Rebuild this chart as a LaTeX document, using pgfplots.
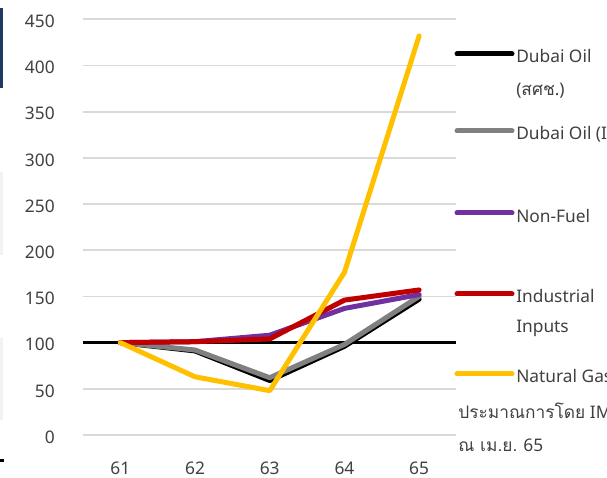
\documentclass[border=0pt]{standalone}
\usepackage{fontspec}
\setmainfont{Noto Sans}
\newfontfamily\thaifont[Script=Thai]{Loma}
\usepackage{pgfplots}
\pgfplotsset{compat=1.18}
\definecolor{txt}{HTML}{404040}
\definecolor{gridc}{HTML}{D9D9D9}
\definecolor{cgray}{HTML}{808080}
\definecolor{cpurple}{HTML}{7030A0}
\definecolor{cred}{HTML}{C00000}
\definecolor{cyellow}{HTML}{FFC000}
\definecolor{navy}{HTML}{203864}
\definecolor{lgray}{HTML}{F2F2F2}
\begin{document}
\begin{tikzpicture}
\useasboundingbox (0,0) rectangle (455.25pt,358.5pt);
\clip (0,0) rectangle (455.25pt,358.5pt);
% fragments at left edge
\fill[navy] (0,292.5pt) rectangle (2.6pt,352.5pt);
\fill[lgray] (0,167.25pt) rectangle (2.6pt,229.5pt);
\fill[lgray] (0,43.5pt) rectangle (2.6pt,105pt);
\fill[black] (0,12pt) rectangle (3pt,14.25pt);
\begin{axis}[
  at={(62.25pt,32.25pt)}, anchor=south west,
  scale only axis, width=280.1pt, height=311.8pt,
  xmin=60.5, xmax=65.5, ymin=0, ymax=450,
  xtick={61,62,63,64,65}, ytick={0,50,...,450},
  axis line style={draw=none}, major tick length=0pt,
  ymajorgrids, grid style={gridc, line width=1.3pt},
  font=\fontsize{13}{15}\selectfont,
  tick label style={text=txt, inner sep=0pt},
  /pgf/number format/assume math mode=true,
  /pgf/number format/1000 sep={},
  xticklabel style={anchor=north, yshift=-20pt},
  yticklabel style={anchor=east, xshift=-21pt, yshift=-1.5pt},
  clip=false,
  every axis plot/.append style={line cap=round, line join=round, line width=3.75pt},
]
\addplot[black, line width=2pt, line cap=butt] coordinates {(60.5,100) (65.5,100)};
\addplot[black] coordinates {(61,100) (62,91) (63,59) (64,96) (65,147)};
\addplot[cgray] coordinates {(61,100) (62,92) (63,62) (64,98) (65,150)};
\addplot[cpurple] coordinates {(61,100) (62,101) (63,108) (64,137) (65,152)};
\addplot[cred] coordinates {(61,100) (62,101) (63,104) (64,146) (65,157)};
\addplot[cyellow] coordinates {(61,100) (62,63) (63,48) (64,176) (65,432)};
\end{axis}
% legend
\begin{scope}[line width=3.75pt, line cap=round]
\draw[black] (342.75pt,318pt) -- (384pt,318pt);
\draw[cgray] (342.75pt,260.25pt) -- (384pt,260.25pt);
\draw[cpurple] (342.75pt,198.75pt) -- (384pt,198.75pt);
\draw[cred] (342.75pt,138pt) -- (384pt,138pt);
\draw[cyellow] (342.75pt,78pt) -- (384pt,78pt);
\end{scope}
\begin{scope}[every node/.style={anchor=base west, inner sep=0pt, text=txt, font=\fontsize{13}{15}\selectfont}]
\node at (387pt,311.25pt) {Dubai Oil};
\node at (387pt,286.5pt) {({\thaifont สศช}.)};
\node at (387pt,253.5pt) {Dubai Oil (IMF)};
\node at (387pt,191.25pt) {Non-Fuel};
\node at (387pt,131.25pt) {Industrial};
\node at (387pt,108.75pt) {Inputs};
\node at (387pt,71.25pt) {Natural Gas};
\node at (343.5pt,44.25pt) {{\thaifont ประมาณการโดย} IMF};
\node at (343.5pt,19.5pt) {{\thaifont ณ เม.ย.} 65};
\end{scope}
\end{tikzpicture}
\end{document}
